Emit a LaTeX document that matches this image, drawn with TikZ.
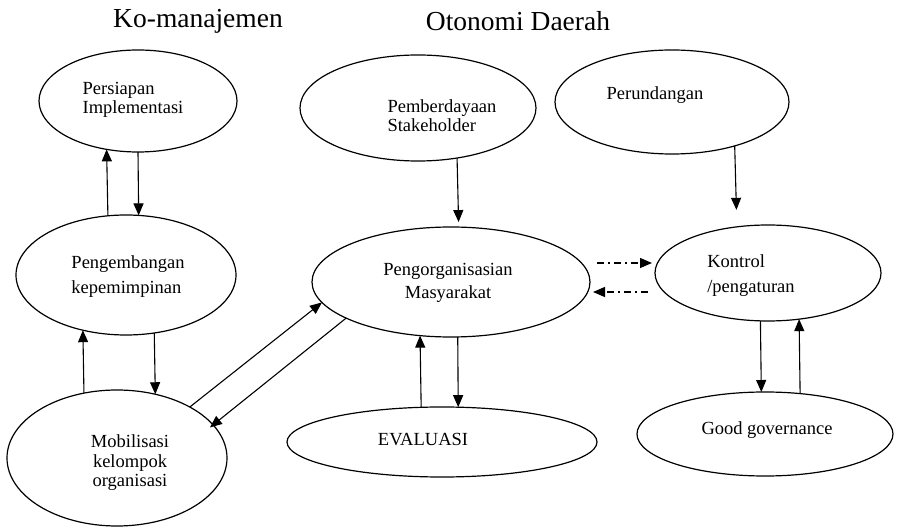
\documentclass[tikz,border=0pt]{standalone}
\usepackage{fontspec}
\setmainfont{Liberation Serif}
\usetikzlibrary{arrows.meta,shapes.geometric}
\begin{document}
\begin{tikzpicture}[x=1pt,y=-1pt,
  ell/.style={draw,ellipse,line width=1.2pt,inner sep=0pt,outer sep=0pt},
  txt/.style={inner sep=0pt,font=\fontsize{18.5}{22}\selectfont},
  ttl/.style={inner sep=0pt,font=\fontsize{27.5}{30}\selectfont},
  arr/.style={line width=1.1pt,-{Triangle[length=12pt,width=10pt]}},
  dd/.style={line width=1.2pt,dash pattern=on 7pt off 4pt on 2pt off 4pt,-{Triangle[length=12pt,width=10pt]}}]
\useasboundingbox[fill=white] (0,0) rectangle (898,529);

% titles
\node[ttl] (t1) at (198,21) {Ko-manajemen};
\node[ttl] (t2) at (518,21) {Otonomi Daerah};

% ellipses
\node[ell,minimum width=198pt,minimum height=102pt] (A) at (138,101) {};
\node[ell,minimum width=220pt,minimum height=120pt] (B) at (126,275) {};
\node[ell,minimum width=220pt,minimum height=136pt] (C) at (117,458) {};
\node[ell,minimum width=236pt,minimum height=106pt] (D) at (418,108) {};
\node[ell,minimum width=234pt,minimum height=104pt] (E) at (672,102) {};
\node[ell,minimum width=278pt,minimum height=110pt] (F) at (451,282) {};
\node[ell,minimum width=226pt,minimum height=96pt] (G) at (768,273) {};
\node[ell,minimum width=310pt,minimum height=70pt] (H) at (442,442) {};
\node[ell,minimum width=256pt,minimum height=84pt] (I) at (765,434) {};

% texts
\node[txt,align=left,font=\fontsize{18.5}{19}\selectfont] (At) at (133,100) {Persiapan\\Implementasi};
\node[txt,align=left,font=\fontsize{18.5}{25}\selectfont] (Bt) at (128,277) {Pengembangan\\kepemimpinan};
\node[txt,align=center,font=\fontsize{18.5}{19.5}\selectfont] (Ct) at (130,463) {Mobilisasi\\kelompok\\organisasi};
\node[txt,align=left,font=\fontsize{18.5}{19}\selectfont] (Dt) at (442,116) {Pemberdayaan\\Stakeholder};
\node[txt] (Et) at (655,95) {Perundangan};
\node[txt,align=center,font=\fontsize{18.5}{23}\selectfont] (Ft) at (448,283) {Pengorganisasian\\Masyarakat};
\node[txt,align=left,font=\fontsize{18.5}{25}\selectfont] (Gt) at (751,276) {Kontrol\\/pengaturan};
\node[txt] (Ht) at (423,440) {EVALUASI};
\node[txt] (It) at (767,430) {Good governance};

% connectors
\draw[arr] (B.107.8) -- (A.237.4);
\draw[arr] (A.270) -- (B.78.6);
\draw[arr] (C.117.7) -- (B.232.1);
\draw[arr] (B.296.6) -- (C.59.2);
\draw[arr] (C.35.7) -- (F.189.3);
\draw[arr,shorten >=-4pt] (F.199.6) -- (C.19.4);
\draw[arr,shorten >=5pt] (D.308.7) -- (F.82.7);
\draw[arr,shorten >=17pt] (E.325.8) -- (G.124.8);
\draw[arr] (H.121.2) -- (F.240.8);
\draw[arr] (F.277.3) -- (H.65.3);
\draw[arr] (G.261.7) -- (I.95.4);
\draw[arr] (I.49.1) -- (G.304.8);
\draw[dd] ([xshift=7pt,yshift=19pt]F.east) -- ([xshift=-3pt,yshift=10pt]G.west);
\draw[dd] ([xshift=-7pt,yshift=-19pt]G.west) -- ([xshift=3pt,yshift=-10pt]F.east);
\end{tikzpicture}
\end{document}
